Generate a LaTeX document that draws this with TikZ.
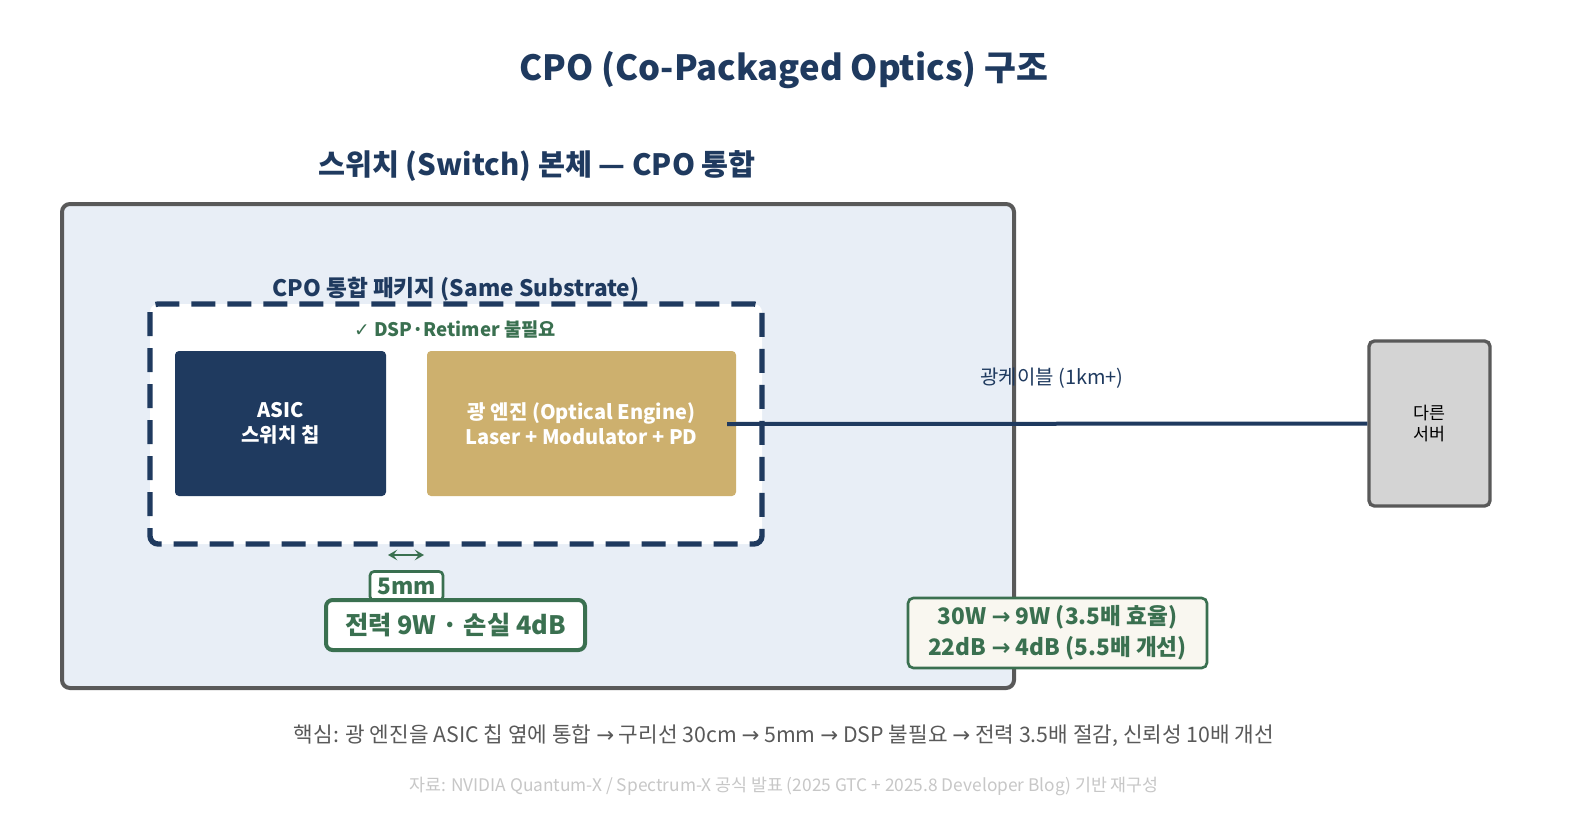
\documentclass[tikz,border=0pt]{standalone}
\usepackage{fontspec}
\setmainfont{Noto Sans CJK KR}
\newfontfamily\djv{DejaVu Sans}
\usetikzlibrary{arrows.meta}
\definecolor{navy}{HTML}{1F3A5F}
\definecolor{gold}{HTML}{CDB06E}
\definecolor{grn}{HTML}{3A7050}
\definecolor{bgblue}{HTML}{E8EEF6}
\definecolor{frame}{HTML}{595959}
\begin{document}
\begin{tikzpicture}[x=0.75pt,y=-0.75pt,
  txt/.style={inner sep=0pt,align=center},
  greenbox/.style={draw=grn,line width=3pt,rounded corners=5pt,fill=white}]
\useasboundingbox[fill=white] (0,0) rectangle (1570,839);
\node[txt,text=navy,font=\fontsize{26}{30}\selectfont\bfseries] (title) at (784,70) {CPO (Co-Packaged Optics) 구조};
\node[txt,text=navy,font=\fontsize{22}{26}\selectfont\bfseries] (sub) at (537,166) {스위치 (Switch) 본체 — CPO 통합};
\draw[frame,line width=3pt,fill=bgblue,rounded corners=6pt] (62,204) rectangle (1014,688);
\draw[navy,line width=4pt,dash pattern=on 18pt off 9pt,fill=white,rounded corners=6pt] (150,304) rectangle (762,544);
\node[txt,text=navy,font=\fontsize{17}{20}\selectfont\bfseries] (pkg) at (456,289) {CPO 통합 패키지 (Same Substrate)};
\node[txt,text=grn,font=\fontsize{14}{17}\selectfont\bfseries] (dsp) at (455,329) {{\djv ✓} DSP·Retimer 불필요};
\node[fill=navy,rounded corners=3pt,minimum width=211*0.75pt,minimum height=145*0.75pt,text=white,align=center,font=\fontsize{15}{19}\selectfont\bfseries] (asic) at (280.5,423.5) {ASIC\\스위치 칩};
\node[fill=gold,rounded corners=3pt,minimum width=309*0.75pt,minimum height=145*0.75pt,text=white,align=center,font=\fontsize{15}{19}\selectfont\bfseries] (oe) at (581.5,423.5) {광 엔진 (Optical Engine)\\Laser + Modulator + PD};
\node[draw=frame,line width=2.5pt,fill=black!17,rounded corners=4pt,minimum width=121*0.75pt,minimum height=165*0.75pt,align=center,font=\fontsize{13}{16}\selectfont] (srv) at (1429.5,423.5) {다른\\서버};
\coordinate (cs) at (727,424);
\draw[navy,line width=3pt] (cs) -- (srv.west);
\node[txt,text=navy,font=\fontsize{15}{18}\selectfont] (cab) at (1052,378) {광케이블 (1km+)};
\coordinate (a1) at (388,555); \coordinate (a2) at (424,555);
\draw[grn,line width=2pt,{Stealth[length=7pt,width=8pt,inset=3pt]}-{Stealth[length=7pt,width=8pt,inset=3pt]}] (a1) -- (a2);
\node[draw=grn,line width=2pt,fill=white,rounded corners=3pt,minimum width=73*0.75pt,minimum height=29*0.75pt,inner sep=0pt,text=grn,font=\fontsize{17}{20}\selectfont\bfseries] (mm) at (406.5,586) {5mm};
\node[greenbox,minimum width=259*0.75pt,minimum height=50*0.75pt,inner sep=0pt,text=grn,font=\fontsize{19}{22}\selectfont\bfseries] (pw) at (455.5,625) {전력 9W · 손실 4dB};
\node[draw=grn,line width=2pt,fill=black!3!gold!10,rounded corners=4pt,minimum width=299*0.75pt,minimum height=70*0.75pt,inner sep=0pt,align=center,text=grn,font=\fontsize{17}{23}\selectfont\bfseries] (eff) at (1057.5,633) {30W {\djv →} 9W (3.5배 효율)\\22dB {\djv →} 4dB (5.5배 개선)};
\node[txt,text=black!65,font=\fontsize{16}{19}\selectfont] (key) at (784,736) {핵심: 광 엔진을 ASIC 칩 옆에 통합 {\djv →} 구리선 30cm {\djv →} 5mm {\djv →} DSP 불필요 {\djv →} 전력 3.5배 절감, 신뢰성 10배 개선};
\node[txt,text=black!22,font=\fontsize{13}{16}\selectfont] (src) at (784,786) {자료: NVIDIA Quantum-X / Spectrum-X 공식 발표 (2025 GTC + 2025.8 Developer Blog) 기반 재구성};
\end{tikzpicture}
\end{document}
